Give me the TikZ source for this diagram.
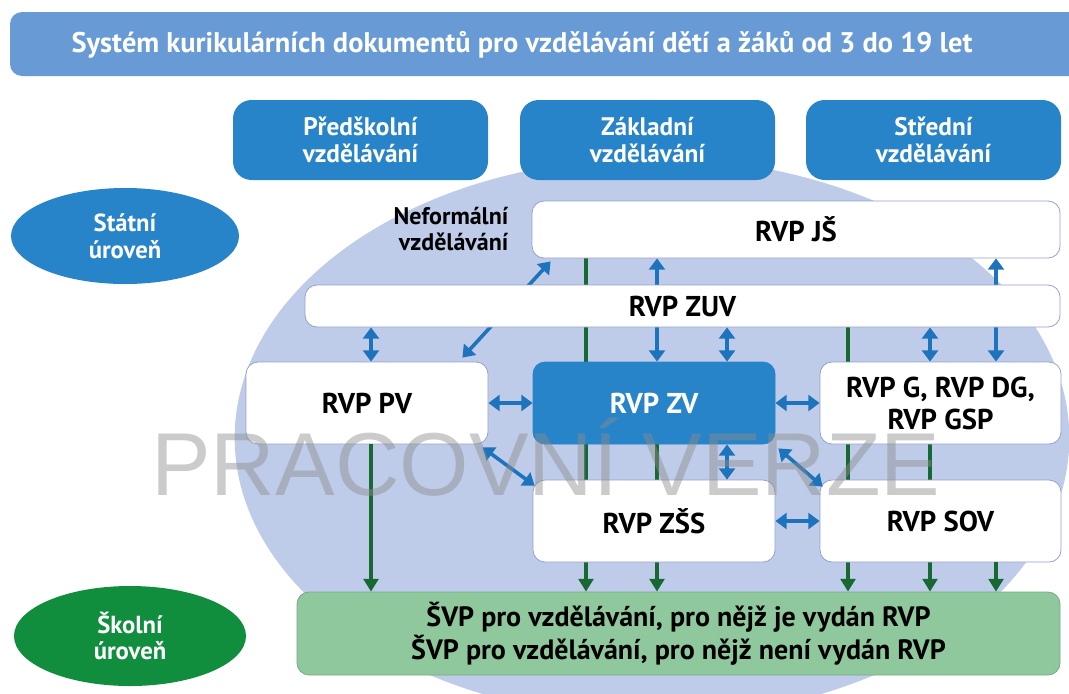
\documentclass[tikz,border=0pt]{standalone}
\usepackage{fontspec}
\setmainfont{PT Sans}
\newfontfamily\markfont{Liberation Sans}
\usepackage{tikz}
\usetikzlibrary{arrows.meta,shapes.geometric,backgrounds,calc}

\definecolor{barblue}{RGB}{104,155,214}
\definecolor{boxblue}{RGB}{40,132,200}
\definecolor{ovalblue}{RGB}{190,204,234}
\definecolor{edgeblue}{RGB}{150,160,205}
\definecolor{arrblue}{RGB}{30,116,188}
\definecolor{arrgreen}{RGB}{24,104,52}
\definecolor{svpgreen}{RGB}{142,200,156}
\definecolor{schoolgreen}{RGB}{16,142,62}

\tikzset{
  stage/.style={rounded corners=14pt,fill=boxblue,text=white,font=\fontsize{19}{20}\selectfont\bfseries,
    align=center,minimum width=191.25pt,minimum height=60pt,inner sep=0pt},
  rvp/.style={rounded corners=9pt,draw=edgeblue,line width=0.6pt,fill=white,
    font=\fontsize{21.5}{24}\selectfont\bfseries,align=center,minimum height=61.5pt,inner sep=0pt},
  oval/.style={ellipse,text=white,font=\fontsize{18.5}{20}\selectfont\bfseries,align=center,inner sep=0pt},
  twoway/.style={{Triangle[width=12pt,length=8.5pt]}-{Triangle[width=12pt,length=8.5pt]},arrblue,line width=2.7pt},
  godown/.style={-{Triangle[width=11pt,length=9.5pt]},arrgreen,line width=2.3pt}
}

\begin{document}
\begin{tikzpicture}[x=0.75pt,y=-0.75pt,>=stealth]
            \useasboundingbox (0,0) rectangle (1069,693);
            \fill[barblue,rounded corners=9pt] (10,12) rectangle (1100,76);
            \node[text=white,font=\fontsize{21.3}{24}\selectfont\bfseries] (title) at (522,45)
              {Systém kurikulárních dokumentů pro vzdělávání dětí a žáků od 3 do 19 let};

            \node[stage] (PS) at (360.5,140) {Předškolní\\vzdělávání};
            \node[stage] (ZA) at (647.5,140) {Základní\\vzdělávání};
            \node[stage] (ST) at (933.5,140) {Střední\\vzdělávání};

            \node[oval,fill=boxblue,minimum width=171pt,minimum height=72pt] (statni) at (125,236) {Státní\\úroveň};
            \node[oval,fill=schoolgreen,minimum width=174pt,minimum height=75pt] (skolni) at (130,636) {Školní\\úroveň};
            \node[anchor=east,align=right,font=\fontsize{18}{19}\selectfont\bfseries] (nef) at (513,229) {Neformální\\vzdělávání};

            \node[rvp,minimum width=396pt,minimum height=42.75pt] (JS) at (796,229.5) {RVP JŠ};
            \node[rvp,minimum width=566.25pt,minimum height=31.5pt] (ZUV) at (682.5,306) {RVP ZUV};
            \node[rvp,minimum width=181.5pt] (PV) at (367,403) {RVP PV};
            \node[rvp,minimum width=181.5pt,fill=boxblue,draw=boxblue,text=white] (ZV) at (654,403) {RVP ZV};
            \node[rvp,minimum width=180.75pt] (G) at (940.5,403) {RVP G, RVP DG,\\RVP GSP};
            \node[rvp,minimum width=181.5pt] (ZSS) at (654,521) {RVP ZŠS};
            \node[rvp,minimum width=180.75pt] (SOV) at (940.5,521) {RVP SOV};
            \node[rvp,minimum width=572.25pt,minimum height=62.25pt,fill=svpgreen,draw=svpgreen!85!black,
              font=\fontsize{21}{25}\selectfont\bfseries] (SVP) at (678.5,633.5)
              {ŠVP pro vzdělávání, pro nějž je vydán RVP\\ŠVP pro vzdělávání, pro nějž není vydán RVP};

            \coordinate (c1) at (371,0);
            \coordinate (c2) at (586,0);
            \coordinate (c3) at (657,0);
            \coordinate (c4) at (727,0);
            \coordinate (c5) at (848,0);
            \coordinate (c6) at (930,0);
            \coordinate (c7) at (996,0);

            \begin{scope}[on background layer]
            \fill[ovalblue] (652,438) ellipse [x radius=313pt,y radius=210pt];
            \draw[godown] (JS.south -| c2) -- (SVP.north -| c2);
            \draw[godown] (ZV.south -| c3) -- (SVP.north -| c3);
            \draw[godown] (ZUV.south -| c5) -- (SVP.north -| c5);
            \draw[godown] (G.south -| c6) -- (SVP.north -| c6);
            \draw[twoway] (JS.south -| c3) -- (ZV.north -| c3);
            \draw[twoway] (JS.south -| c7) -- (G.north -| c7);
            \draw[twoway] ($(PV.north east)+(-26,-4)$) -- ($(JS.south west)+(19,3)$);
            \end{scope}

            \draw[twoway] (ZUV.south -| c1) -- (PV.north -| c1);
            \draw[twoway] (ZUV.south -| c4) -- (ZV.north -| c4);
            \draw[twoway] (ZUV.south -| c6) -- (G.north -| c6);
            \draw[twoway] (ZV.south -| c4) -- (ZSS.north -| c4);
            \draw[twoway] (PV.east) -- (ZV.west);
            \draw[twoway] (ZV.east) -- (G.west);
            \draw[twoway] (ZSS.east) -- (SOV.west);
            \draw[twoway] ($(PV.south east)+(-6,3)$) -- ($(ZSS.north west)+(2,6)$);
            \draw[twoway] ($(ZV.south east)+(3,4)$) -- ($(SOV.north west)+(3,7)$);
            \draw[godown] (PV.south -| c1) -- (SVP.north -| c1);
            \draw[godown] (SOV.south -| c7) -- (SVP.north -| c7);

            \node[anchor=base,text=black!45,text opacity=0.45,font=\markfont\fontsize{67}{70}\selectfont] (mark) at (546,495) {PRACOVNÍ VERZE};
        \end{tikzpicture}
\end{document}
